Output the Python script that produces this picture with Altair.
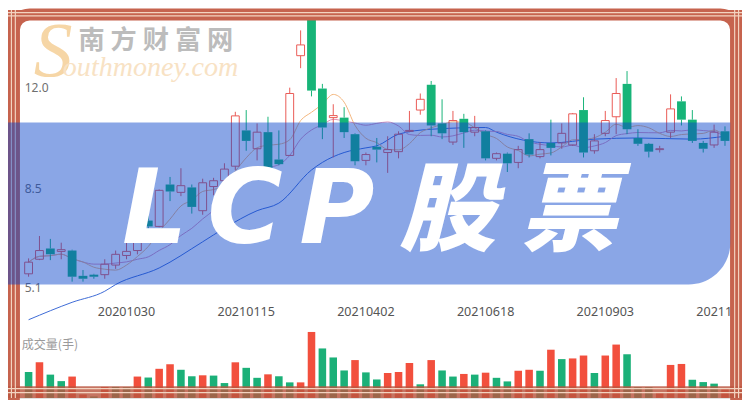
import altair as alt
import pandas as pd
import numpy as np

# ---------------- data (weekly candles) ----------------
opens = [5.6, 6.1, 6.47, 6.37, 6.4, 5.53, 5.57, 5.57, 5.9, 6.23,
         6.4, 7.43, 7.23, 8.67, 8.4, 8.57, 7.77, 8.6, 8.8, 9.3,
         10.53, 9.9, 10.47, 9.53, 9.67, 13.1, 14.5, 11.97, 10.97, 10.97,
         10.4, 9.5, 9.97, 9.77, 9.8, 10.5, 11.23, 12.1, 10.77, 10.13,
         10.93, 10.47, 10.5, 9.57, 9.73, 9.43, 10.23, 9.63, 10.1, 10.1,
         10.03, 11.23, 9.83, 10.43, 11.0, 12.13, 10.27, 10.07, 9.87, 10.47,
         11.53, 10.9, 10.1, 10.03, 10.5]
highs = [6.13, 6.9, 6.8, 6.67, 6.43, 5.73, 5.6, 6.1, 6.4, 6.67,
         7.0, 7.6, 8.5, 8.93, 9.23, 8.67, 8.87, 8.9, 9.4, 11.17,
         11.23, 10.77, 11.0, 10.53, 12.0, 13.97, 14.6, 12.13, 11.43, 11.33,
         10.43, 9.77, 10.27, 10.33, 10.5, 11.2, 11.8, 12.23, 11.6, 11.2,
         11.1, 11.03, 10.53, 9.77, 9.77, 10.0, 10.43, 10.13, 10.9, 10.77,
         11.13, 11.67, 10.4, 11.2, 12.33, 12.57, 10.57, 10.1, 10.0, 11.77,
         11.7, 11.23, 10.17, 10.73, 10.67]
lows = [5.5, 6.07, 6.07, 6.1, 5.33, 5.33, 5.43, 5.43, 5.77, 6.1,
        6.27, 7.1, 7.2, 8.1, 8.27, 7.67, 7.63, 8.3, 8.6, 9.17,
        9.83, 9.5, 9.1, 9.33, 9.67, 12.67, 11.7, 10.23, 9.6, 10.27,
        9.33, 9.33, 9.43, 9.07, 9.57, 10.47, 11.07, 10.33, 10.23, 10.03,
        9.93, 10.33, 9.5, 9.5, 9.1, 9.23, 9.6, 9.57, 9.67, 9.9,
        10.0, 9.6, 9.73, 10.33, 10.4, 10.4, 10.0, 9.6, 9.77, 10.27,
        10.7, 10.1, 9.77, 9.93, 10.0]
closes = [6.0, 6.4, 6.27, 6.43, 5.5, 5.43, 5.5, 5.93, 6.27, 6.37,
          6.9, 7.23, 8.47, 8.43, 8.63, 7.9, 8.73, 8.8, 9.2, 11.03,
          10.17, 10.47, 9.23, 9.37, 11.8, 13.47, 11.9, 10.63, 11.04, 10.47,
          9.47, 9.7, 9.87, 9.87, 10.4, 10.53, 11.6, 10.7, 10.43, 10.87,
          10.47, 10.63, 9.57, 9.73, 9.4, 9.87, 9.7, 9.87, 9.93, 10.43,
          11.1, 9.77, 10.17, 10.87, 11.8, 10.57, 10.07, 9.8, 9.9, 11.27,
          10.9, 10.17, 9.9, 10.47, 10.17]
volumes = [26.7, 36.7, 24, 17.3, 22, 3.5, 1.5, 11.3, 11.3, 11,
           22, 21, 30, 34.7, 29, 22.3, 23.3, 23, 15.3, 36.7,
           31, 20.7, 24.3, 22.3, 16, 16, 68, 51, 41.7, 28.3,
           39, 26.3, 19, 25.7, 26.7, 36, 14, 39, 28.3, 22,
           24.7, 24, 26, 20.7, 17, 28, 29, 28, 49.7, 40,
           40.7, 43.7, 25.7, 43.7, 55, 45, 11, 11, 5, 34,
           35, 18.7, 16.3, 14.7, 9]
vol_colors = ["G", "R", "G", "G", "R", "R", "G", "R", "G", "G",
              "R", "G", "R", "R", "G", "G", "R", "G", "G", "R",
              "G", "G", "R", "G", "G", "R", "R", "G", "G", "G",
              "R", "G", "G", "R", "R", "R", "G", "R", "G", "G",
              "R", "G", "R", "G", "G", "R", "R", "G", "R", "G",
              "R", "R", "G", "R", "R", "G", "G", "G", "R", "R",
              "R", "G", "G", "G", "R"]

long_ma_idx = [0, 4, 7, 8, 12, 16, 18, 21, 23, 26, 27, 29, 31, 32, 34, 37, 42, 43, 48, 52, 56, 61, 64]
long_ma_val = [4.02, 4.62, 5.0, 5.23, 5.8, 6.7, 7.17, 7.77, 8.03, 9.17, 9.43, 9.77, 9.93, 10.0,
               10.4, 10.57, 10.63, 10.47, 10.1, 10.23, 10.27, 10.23, 10.33]

price_ticks = [12.0, 8.5, 5.1]
price_tick_labels = ["12.0", "8.5", "5.1"]
date_tick_idx = [9, 20, 31, 42, 53, 64]
date_tick_labels = ["20201030", "20210115", "20210402", "20210618", "20210903", "20211119"]

# ---------------- geometry helpers ----------------
W, H = 742, 392
SX, SY = W / 750, H / 400


def X(v):
    return round(v * SX, 2)


def Y(v):
    return round(v * SY, 2)


def FS(v):
    return round(v * SY, 1)


xs = alt.Scale(domain=[-1.4375, 65.11], nice=False, zero=False)
ps = alt.Scale(domain=[1.3333, 14.6667], nice=False, zero=False)
vs = alt.Scale(domain=[0, 400], nice=False, zero=False)

RED = "#ea5a55"
GREEN = "#17b478"
VRED = "#f24f3d"
VGREEN = "#1bb078"
FR = "#c6634e"
PALE = "#f3d3c0"

df = pd.DataFrame({
    "idx": list(range(len(opens))),
    "open": opens, "high": highs, "low": lows, "close": closes,
    "vol": volumes, "vc": vol_colors,
})
df["top"] = df[["open", "close"]].max(axis=1)
df["bot"] = df[["open", "close"]].min(axis=1)
df["dir"] = np.where(df["close"] >= df["open"], "up", "down")

one = pd.DataFrame({"k": [0]})


def rect(x, x2, y, y2, **kw):
    return alt.Chart(one).mark_rect(**kw).encode(
        x=alt.value(X(x)), x2=alt.value(X(x2)), y=alt.value(Y(y)), y2=alt.value(Y(y2)))


def vline(x, color, w=1.2):
    return alt.Chart(one).mark_rule(color=color, strokeWidth=w).encode(
        x=alt.value(X(x)), y=alt.value(0), y2=alt.value(H))


def hline(y, color, w=1.2):
    return alt.Chart(one).mark_rule(color=color, strokeWidth=w).encode(
        y=alt.value(Y(y)), x=alt.value(0), x2=alt.value(W))


def text(s, x, y, **kw):
    return alt.Chart(one).mark_text(text=s, **kw).encode(x=alt.value(X(x)), y=alt.value(Y(y)))


ax = alt.X("idx:Q", scale=xs, axis=None)

layers = []

# watermark
layers.append(text("S", 46, 68, font="Liberation Serif", fontStyle="italic", fontSize=FS(80),
                   color="#f6d6a6", align="center", baseline="alphabetic"))
layers.append(text("outhmoney.com", 56, 68, font="Liberation Serif", fontStyle="italic",
                   fontSize=FS(29), color="#f8e2c4", align="left", baseline="alphabetic"))
layers.append(text("南 方 财 富 网", 72, 40, font="Noto Sans CJK SC", fontWeight="bold",
                   fontSize=FS(27), color="#bcbcbc", align="left", baseline="alphabetic"))

# axis texts
layers.append(alt.Chart(pd.DataFrame({"p": price_ticks, "t": price_tick_labels})).mark_text(
    align="left", baseline="middle", fontSize=FS(12.5), color="#6f6f6f", font="Noto Sans").encode(
    x=alt.value(X(17)), y=alt.Y("p:Q", scale=ps, axis=None), text="t:N"))
layers.append(alt.Chart(pd.DataFrame({"idx": date_tick_idx, "t": date_tick_labels})).mark_text(
    align="center", baseline="middle", fontSize=FS(13), color="#555555", font="Noto Sans").encode(
    x=ax, y=alt.value(Y(311)), text="t:N"))
layers.append(text("成交量(手)", 14, 346, font="Noto Sans CJK SC", fontSize=FS(12.5),
                   color="#9a9a9a", align="left", baseline="middle"))

# moving averages
layers.append(alt.Chart(pd.DataFrame({"idx": long_ma_idx, "v": long_ma_val})).mark_line(
    color="#3d6ad6", strokeWidth=1, interpolate="monotone").encode(
    x=ax, y=alt.Y("v:Q", scale=ps, axis=None)))
layers.append(alt.Chart(df).transform_window(
    ma10="mean(close)", frame=[-9, 0], sort=[alt.SortField("idx")]).mark_line(
    color="#df93b8", strokeWidth=1, interpolate="monotone").encode(
    x=ax, y=alt.Y("ma10:Q", scale=ps, axis=None)))
layers.append(alt.Chart(df).transform_window(
    ma5="mean(close)", frame=[-4, 0], sort=[alt.SortField("idx")]).mark_line(
    color="#f3b57c", strokeWidth=1, interpolate="monotone").encode(
    x=ax, y=alt.Y("ma5:Q", scale=ps, axis=None)))

# candles
for d, col in (("up", RED), ("down", GREEN)):
    base = alt.Chart(df).transform_filter(f"datum.dir == '{d}'")
    layers.append(base.mark_rule(color=col, strokeWidth=1).encode(
        x=ax, y=alt.Y("high:Q", scale=ps, axis=None), y2="top:Q"))
    layers.append(base.mark_rule(color=col, strokeWidth=1).encode(
        x=ax, y=alt.Y("bot:Q", scale=ps, axis=None), y2="low:Q"))
layers.append(alt.Chart(df).transform_filter("datum.dir == 'up'").mark_bar(
    size=X(8), fillOpacity=0, stroke=RED, strokeWidth=1).encode(
    x=ax, y=alt.Y("top:Q", scale=ps, axis=None), y2="bot:Q"))
layers.append(alt.Chart(df).transform_filter("datum.dir == 'down'").mark_bar(
    size=X(9), color=GREEN).encode(
    x=ax, y=alt.Y("top:Q", scale=ps, axis=None), y2="bot:Q"))

# volume
for c, col in (("R", VRED), ("G", VGREEN)):
    layers.append(alt.Chart(df).transform_filter(f"datum.vc == '{c}'").mark_bar(
        size=X(7.7), color=col).encode(
        x=ax, y=alt.Y("vol:Q", scale=vs, axis=None)))

# frame
layers.append(rect(0, 750, 0, 10, color=FR))
layers.append(rect(0, 12, 0, 400, color=FR))
layers.append(rect(738, 750, 0, 400, color=FR))
layers.append(alt.Chart(one).mark_rect(fillOpacity=0, stroke=FR, strokeWidth=12, cornerRadius=16).encode(
    x=alt.value(X(6)), x2=alt.value(X(744)), y=alt.value(Y(4.5)), y2=alt.value(Y(470))))
layers.append(rect(0, 750, 388, 400, color="#b9553f", opacity=0.82))
for v in (3.5, 7.5, 742.5, 746.5):
    layers.append(vline(v, PALE))
for v in (2.5, 6.0, 390.5, 394.5):
    layers.append(hline(v, PALE))

# banner
layers.append(rect(0, 738, 116, 283, color="#0a45cb", opacity=0.48, cornerRadiusBottomRight=42))
for ch, cx in (("L", 150), ("C", 242), ("P", 336)):
    layers.append(text(ch, cx, 240, font="DejaVu Sans", fontWeight="bold", fontStyle="italic",
                       fontSize=FS(106), color="white", align="center", baseline="alphabetic"))
for ch, cx in (("股", 449), ("票", 573)):
    layers.append(text(ch, cx, 240, font="Noto Sans CJK SC", fontWeight=900, fontStyle="italic",
                       fontSize=FS(100), color="white", align="center", baseline="alphabetic"))

chart = alt.layer(*layers).resolve_scale(y="independent").properties(
    width=W, height=H, padding=0, autosize=alt.AutoSizeParams(type="none")
).configure_view(stroke=None).configure(background="white")

chart.save("out.html", embed_options={"renderer": "svg", "actions": False})
